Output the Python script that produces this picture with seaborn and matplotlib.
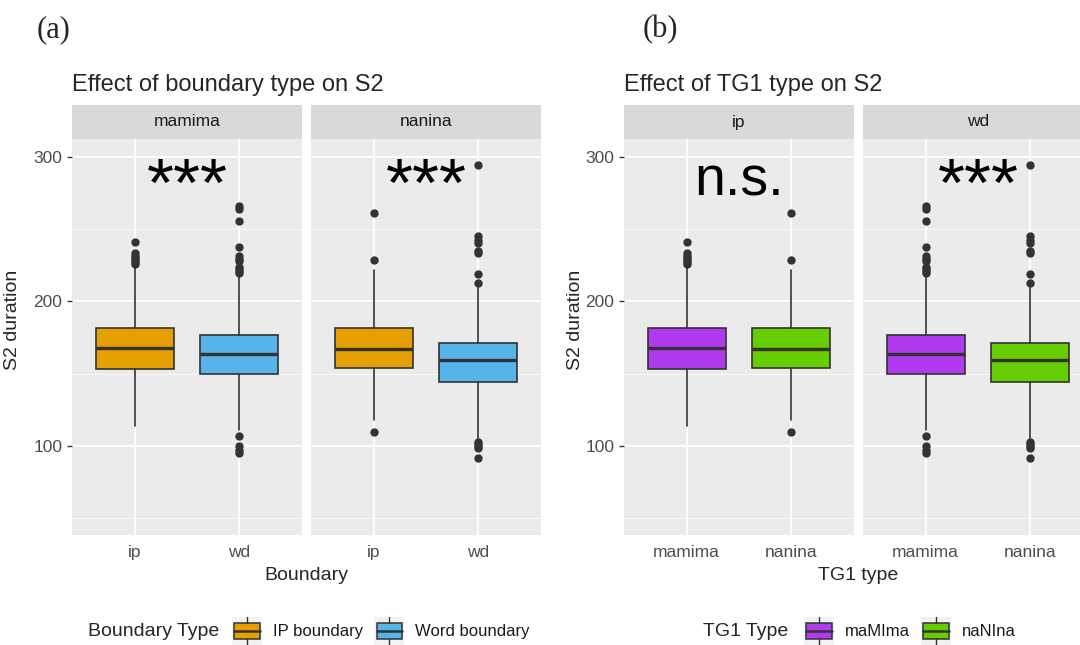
import matplotlib
matplotlib.use("Agg")
import matplotlib.pyplot as plt
from matplotlib.patches import Patch, Rectangle
from matplotlib.lines import Line2D
from matplotlib.legend_handler import HandlerBase
import seaborn as sns

# box statistics, one entry per (TG1, boundary) cell
cell_tg1 = ["mamima", "mamima", "nanina", "nanina"]
cell_boundary = ["ip", "wd", "ip", "wd"]
q1_vals = [153.3, 149.5, 154.1, 144.0]
med_vals = [168.0, 163.4, 167.0, 159.4]
q3_vals = [181.7, 176.9, 181.7, 171.0]
whislo_vals = [114.0, 111.0, 118.0, 104.1]
whishi_vals = [224.5, 218.1, 221.6, 210.0]
fliers_mamima_ip = [225.5, 227.0, 228.5, 230.0, 231.5, 233.0, 240.8]
fliers_mamima_wd = [107.0, 100.0, 97.0, 95.0, 219.5, 221.0, 222.5, 224.0,
                    228.0, 229.5, 231.0, 237.5, 255.5, 263.5, 265.5]
fliers_nanina_ip = [109.7, 228.7, 260.9]
fliers_nanina_wd = [103.0, 101.5, 100.0, 98.5, 92.0, 212.8, 218.6, 233.5,
                    235.0, 240.2, 242.0, 245.0, 293.9]
fliers = [fliers_mamima_ip, fliers_mamima_wd, fliers_nanina_ip, fliers_nanina_wd]

tg1_levels = ["mamima", "nanina"]
boundary_levels = ["ip", "wd"]
sig_by_tg1 = ["***", "***"]
sig_by_boundary = ["n.s.", "***"]
boundary_labels = ["IP boundary", "Word boundary"]
tg1_labels = ["maMIma", "naNIna"]
boundary_colors = ["#E69F00", "#56B4E9"]
tg1_colors = ["#B23AEE", "#66CD00"]

dark = "#333333"
W, H = 1080, 645

sns.set_theme(style="darkgrid", rc={"axes.facecolor": "#EBEBEB", "grid.color": "white"})
plt.rcParams["font.family"] = ["Liberation Sans", "DejaVu Sans"]


def px(x0, y0, x1, y1):
    return [x0 / W, 1 - y1 / H, (x1 - x0) / W, (y1 - y0) / H]


class BoxKey(HandlerBase):
    def create_artists(self, legend, orig_handle, xdescent, ydescent,
                       width, height, fontsize, trans):
        x0, y0 = -xdescent, -ydescent
        fc = orig_handle.get_facecolor()
        bg = Rectangle((x0, y0), width, height, facecolor="#F2F2F2",
                       edgecolor="none", transform=trans)
        bx = Rectangle((x0 + 0.08 * width, y0 + 0.22 * height), 0.84 * width,
                       0.56 * height, facecolor=fc, edgecolor=dark, lw=1.1,
                       transform=trans)
        med = Line2D([x0 + 0.08 * width, x0 + 0.92 * width],
                     [y0 + 0.5 * height] * 2, color=dark, lw=1.8, transform=trans)
        w1 = Line2D([x0 + width / 2] * 2, [y0, y0 + 0.22 * height],
                    color=dark, lw=1.0, transform=trans)
        w2 = Line2D([x0 + width / 2] * 2, [y0 + 0.78 * height, y0 + height],
                    color=dark, lw=1.0, transform=trans)
        return [bg, bx, med, w1, w2]


def draw_facet(fig, left, cells, fills, xlabels, strip, sig, show_y):
    ax = fig.add_axes(px(left, 139, left + 230, 535))
    stats = []
    for i in cells:
        stats.append(dict(med=med_vals[i], q1=q1_vals[i], q3=q3_vals[i],
                          whislo=whislo_vals[i], whishi=whishi_vals[i],
                          fliers=fliers[i]))
    art = ax.bxp(stats, positions=[1, 2], widths=0.75, patch_artist=True,
                 showcaps=False,
                 boxprops=dict(edgecolor=dark, linewidth=1.2),
                 medianprops=dict(color=dark, linewidth=2.4),
                 whiskerprops=dict(color=dark, linewidth=1.2),
                 flierprops=dict(marker="o", markerfacecolor=dark,
                                 markeredgecolor=dark, markersize=5))
    for patch, c in zip(art["boxes"], fills):
        patch.set_facecolor(c)
    ax.set_xlim(0.4, 2.6)
    ax.set_ylim(38.5, 312.1)
    ax.set_xticks([1, 2], xlabels)
    ax.set_yticks([100, 200, 300])
    ax.set_yticks([50, 150, 250], minor=True)
    ax.grid(which="major", color="white", linewidth=1.3)
    ax.grid(which="minor", axis="y", color="white", linewidth=0.6)
    ax.set_axisbelow(True)
    for s in ax.spines.values():
        s.set_visible(False)
    ax.tick_params(which="major", length=3.5, width=1, color=dark,
                   labelsize=12.5, labelcolor="#4D4D4D", pad=3.5)
    ax.tick_params(which="minor", length=0)
    ax.tick_params(axis="y", left=show_y, labelleft=show_y)
    if sig == "***":
        ax.text(1.5, 278, sig, ha="center", va="center", fontsize=50, color="black")
    else:
        ax.text(1.5, 282.5, sig, ha="center", va="center", fontsize=40, color="black")

    sax = fig.add_axes(px(left, 105, left + 230, 139))
    sax.set_facecolor("#D9D9D9")
    sax.set_xticks([])
    sax.set_yticks([])
    sax.grid(False)
    for s in sax.spines.values():
        s.set_visible(False)
    sax.text(0.5, 0.5, strip, ha="center", va="center", fontsize=12.5,
             color="#1A1A1A", transform=sax.transAxes)
    return ax


fig = plt.figure(figsize=(W / 100, H / 100), dpi=100)
fig.patch.set_facecolor("white")

# (a) faceted by TG1, boxes by boundary
for k, t in enumerate(tg1_levels):
    cells = [i for i in range(4) if cell_tg1[i] == t]
    draw_facet(fig, [72, 311][k], cells, boundary_colors, boundary_levels,
               t, sig_by_tg1[k], k == 0)

# (b) faceted by boundary, boxes by TG1
for k, b in enumerate(boundary_levels):
    cells = [i for i in range(4) if cell_boundary[i] == b]
    draw_facet(fig, [624, 863][k], cells, tg1_colors, tg1_levels,
               b, sig_by_boundary[k], k == 0)

serif = ["Liberation Serif", "DejaVu Serif"]
fig.text(37 / W, 1 - 30 / H, "(a)", fontsize=22, family=serif, va="center")
fig.text(643 / W, 1 - 30 / H, "(b)", fontsize=22, family=serif, va="center")

fig.text(72 / W, 1 - 85 / H, "Effect of boundary type on S2", fontsize=17, va="center")
fig.text(624 / W, 1 - 85 / H, "Effect of TG1 type on S2", fontsize=17, va="center")

fig.text(13 / W, 1 - 320 / H, "S2 duration", fontsize=14, rotation=90,
         ha="center", va="center")
fig.text(576 / W, 1 - 320 / H, "S2 duration", fontsize=14, rotation=90,
         ha="center", va="center")
fig.text(306.5 / W, 1 - 576 / H, "Boundary", fontsize=14, ha="center", va="center")
fig.text(858.5 / W, 1 - 576 / H, "TG1 type", fontsize=14, ha="center", va="center")

# legends
fig.text(88 / W, 1 - 632 / H, "Boundary Type", fontsize=14, va="center")
fig.text(703 / W, 1 - 632 / H, "TG1 Type", fontsize=14, va="center")
leg_kw = dict(loc="center left", ncol=2, frameon=False, fontsize=12,
              borderpad=0, borderaxespad=0, handlelength=1.8, handleheight=2.2,
              handletextpad=0.66, columnspacing=0.66, labelcolor="#1A1A1A")
h1 = [Patch(facecolor=c) for c in boundary_colors]
fig.legend(h1, boundary_labels, bbox_to_anchor=(232 / W, 1 - 631 / H),
           handler_map={Patch: BoxKey()}, **leg_kw)
h2 = [Patch(facecolor=c) for c in tg1_colors]
fig.legend(h2, tg1_labels, bbox_to_anchor=(804 / W, 1 - 631 / H),
           handler_map={Patch: BoxKey()}, **leg_kw)

fig.savefig("out.png", dpi=100, facecolor="white")
